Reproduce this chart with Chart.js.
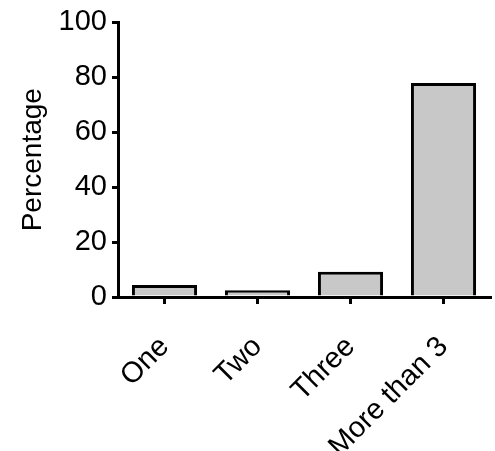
<!DOCTYPE html>
<html>
<head>
<meta charset="utf-8">
<script src="https://cdn.jsdelivr.net/npm/chart.js@4"></script>
<style>
  body { margin: 0; background: #fff; }
  #wrap { width: 495px; height: 451px; }
</style>
</head>
<body>
<div id="wrap"><canvas id="myChart" width="495" height="451"></canvas></div>
<script>
// data
var categories = ['One', 'Two', 'Three', 'More than 3']
var percentages = [4.4, 2.5, 9.2, 77.9]
var yTicks = [0, 20, 40, 60, 80, 100]

var fam = 'Arial, "Liberation Sans", sans-serif'

const data = {
    labels: categories,
    datasets: [{
        data: percentages,
        backgroundColor: '#c8c8c8',
        borderColor: '#000',
        borderWidth: 3,
        categoryPercentage: 1,
        barPercentage: 0.7
    }]
}

const config = {
    type: 'bar',
    data: data,
    options: {
        responsive: false,
        animation: false,
        layout: { padding: { top: 22, right: 5, left: 0, bottom: 0 } },
        plugins: { legend: { display: false }, tooltip: { enabled: false } },
        scales: {
            x: {
                afterFit: function (s) { s.height = 154 },
                grid: { display: true, drawOnChartArea: false, offset: false, tickLength: 7, color: '#000', lineWidth: 3 },
                border: { display: true, color: '#000', width: 3 },
                ticks: { color: '#000', font: { family: fam, size: 29 }, minRotation: 45, maxRotation: 45, padding: 26 }
            },
            y: {
                min: 0,
                max: 100,
                afterFit: function (s) { s.width = 118 },
                afterBuildTicks: function (s) { s.ticks = yTicks.map(function (v) { return { value: v } }) },
                grid: { display: true, drawOnChartArea: false, tickLength: 6, color: '#000', lineWidth: 3 },
                border: { display: true, color: '#000', width: 3 },
                ticks: { color: '#000', font: { family: fam, size: 29 }, padding: 5 },
                title: { display: true, text: 'Percentage', color: '#000', font: { family: fam, size: 28 }, padding: { top: 16, bottom: 0 } }
            }
        }
    }
}

const myChart = new Chart(document.getElementById('myChart'), config)
</script>
</body>
</html>
